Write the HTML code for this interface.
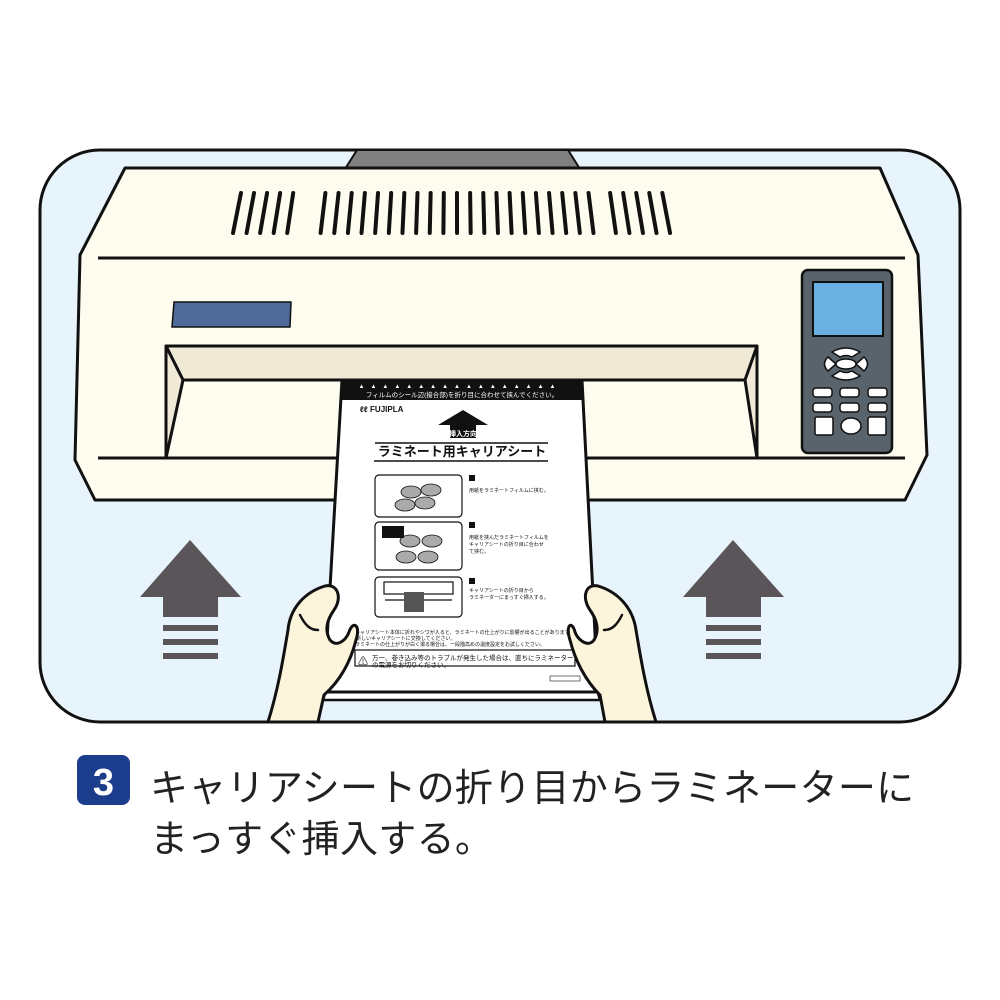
<!DOCTYPE html>
<html><head><meta charset="utf-8"><style>
body{margin:0;background:#fff;width:1000px;height:1000px;overflow:hidden;font-family:"Liberation Sans","Noto Sans CJK JP",sans-serif}
.t{position:absolute;left:150px;font-size:38px;color:#222;letter-spacing:0.3px;white-space:nowrap}
</style></head><body>
<svg width="1000" height="1000" style="position:absolute;left:0;top:0" font-family="Liberation Sans, Noto Sans CJK JP, sans-serif">
<rect x="40" y="150" width="920" height="572" rx="60" fill="#e8f4fc" stroke="#111" stroke-width="3"/>
<polygon points="357,150 568,150 580,169 345,169" fill="#808080" stroke="#111" stroke-width="2"/>
<polygon points="125,168 880,168 918,255 927,455 905,500 95,500 75,460 80,255" fill="#fdfcef" stroke="#111" stroke-width="3" stroke-linejoin="round"/>
<line x1="98" y1="258" x2="905" y2="258" stroke="#111" stroke-width="3"/>
<g id="vents" stroke="#111" stroke-width="4" stroke-linecap="round"></g>
<polygon points="174,302 291,302 290,327 172,327" fill="#4e6a98" stroke="#111" stroke-width="1.5"/>
<polygon points="166,346 757,346 757,380 183,380" fill="#efe9d5" stroke="#111" stroke-width="3" stroke-linejoin="round"/>
<polygon points="166,346 183,380 166,458" fill="#efe9d5" stroke="#111" stroke-width="3" stroke-linejoin="round"/>
<polygon points="757,346 745,380 757,458" fill="#efe9d5" stroke="#111" stroke-width="3" stroke-linejoin="round"/>
<line x1="98" y1="458" x2="905" y2="458" stroke="#111" stroke-width="3"/>
<rect x="802" y="270" width="90" height="183" rx="6" fill="#58636b" stroke="#111" stroke-width="2.5"/>
<rect x="813" y="282" width="70" height="54" fill="#6ab0e0" stroke="#111" stroke-width="2"/>
<g fill="#fff" stroke="#111" stroke-width="1.5">
<path d="M832,352 Q846,344 860,352 L852,357 Q846,354 840,357 Z"/>
<path d="M832,376 Q846,384 860,376 L852,371 Q846,374 840,371 Z"/>
<path d="M828,357 L836,364 L828,371 Q821,364 828,357 Z"/>
<path d="M864,357 L856,364 L864,371 Q871,364 864,357 Z"/>
<ellipse cx="846" cy="364" rx="10" ry="5"/>
<rect x="813" y="388" width="19" height="9" rx="3"/><rect x="840" y="388" width="19" height="9" rx="3"/><rect x="868" y="388" width="19" height="9" rx="3"/>
<rect x="813" y="403" width="19" height="9" rx="3"/><rect x="840" y="403" width="19" height="9" rx="3"/><rect x="868" y="403" width="19" height="9" rx="3"/>
<rect x="815" y="417" width="18" height="18" rx="2"/><ellipse cx="851" cy="426" rx="10" ry="8"/><rect x="868" y="417" width="18" height="18" rx="2"/>
</g>
<g fill="#5a5558">
<polygon points="190,540 241,597 218,597 218,617 163,617 163,597 140,597"/>
<rect x="163" y="625" width="55" height="6"/><rect x="163" y="639" width="55" height="6"/><rect x="163" y="653" width="55" height="6"/>
<polygon points="733,540 784,597 761,597 761,617 706,617 706,597 683,597"/>
<rect x="706" y="625" width="55" height="6"/><rect x="706" y="639" width="55" height="6"/><rect x="706" y="653" width="55" height="6"/>
</g>
<polygon points="326,690 597,690 600,700 323,700" fill="#fff" stroke="#111" stroke-width="2.5"/>
<polygon points="342,380 582,380 598,692 324,692" fill="#fff" stroke="#111" stroke-width="3"/>
<polygon points="342,380 582,380 583,400 341,400" fill="#111"/>
<text x="462" y="397" font-size="6.5" fill="#fff" text-anchor="middle">フィルムのシール辺(接合部)を折り目に合わせて挟んでください。</text>
<text x="460" y="388" font-size="6" fill="#fff" text-anchor="middle" letter-spacing="6">▲▲▲▲▲▲▲▲▲▲▲▲▲▲▲▲▲</text>
<text x="360" y="412" font-size="8" font-weight="bold" fill="#111">ℓℓ FUJIPLA</text>
<polygon points="463,410 488,425 476,425 476,438 450,438 450,425 438,425" fill="#111"/>
<text x="463" y="436" font-size="7" fill="#fff" text-anchor="middle" font-weight="bold">挿入方向</text>
<line x1="375" y1="443" x2="548" y2="443" stroke="#111" stroke-width="1.5"/>
<text x="462" y="456" font-size="13" font-weight="bold" fill="#111" text-anchor="middle">ラミネート用キャリアシート</text>
<line x1="374" y1="461" x2="548" y2="461" stroke="#111" stroke-width="1.5"/>
<g fill="none" stroke="#111" stroke-width="1.2">
<rect x="375" y="475" width="87" height="42" rx="4"/>
<rect x="375" y="522" width="87" height="48" rx="4"/>
<rect x="375" y="577" width="87" height="40" rx="4"/>
<rect x="355" y="650" width="220" height="16"/>
<rect x="384" y="582" width="69" height="12"/>
<line x1="385" y1="600" x2="452" y2="600"/>
</g>
<g fill="#aaa" stroke="#111" stroke-width="0.8">
<ellipse cx="411" cy="492" rx="10" ry="6"/><ellipse cx="431" cy="490" rx="10" ry="6"/><ellipse cx="405" cy="505" rx="10" ry="6"/><ellipse cx="425" cy="503" rx="10" ry="6"/>
<ellipse cx="410" cy="541" rx="10" ry="6"/><ellipse cx="432" cy="541" rx="10" ry="6"/><ellipse cx="406" cy="557" rx="10" ry="6"/><ellipse cx="428" cy="557" rx="10" ry="6"/>
</g>
<rect x="382" y="526" width="22" height="12" fill="#111"/>
<rect x="404" y="592" width="20" height="20" fill="#555"/>
<g font-size="5" fill="#111">
<rect x="469" y="475" width="6" height="6"/><text x="469" y="492">用紙をラミネートフィルムに挟む。</text>
<rect x="469" y="522" width="6" height="6"/><text x="469" y="539">用紙を挟んだラミネートフィルムを</text><text x="469" y="546">キャリアシートの折り目に合わせ</text><text x="469" y="553">て挟む。</text>
<rect x="469" y="578" width="6" height="6"/><text x="469" y="592">キャリアシートの折り目から</text><text x="469" y="599">ラミネーターにまっすぐ挿入する。</text>
<text x="352" y="634">■キャリアシート本体に折れやシワが入ると、ラミネートの仕上がりに影響が出ることがあります。</text>
<text x="356" y="640">新しいキャリアシートに交換してください。</text>
<text x="352" y="646">■ラミネートの仕上がりが白く濁る場合は、一段階高めの温度設定をお試しください。</text>
<text x="372" y="660" font-size="6.5">万一、巻き込み等のトラブルが発生した場合は、直ちにラミネーター</text>
<text x="372" y="667" font-size="6.5">の電源をお切りください。</text>
<rect x="550" y="676" width="30" height="5" fill="none" stroke="#111" stroke-width="0.6"/>
</g>
<text x="363" y="665" font-size="10" fill="#111" text-anchor="middle">⚠</text>
<g fill="#fdf4dc" stroke="#111" stroke-width="3" stroke-linejoin="round" stroke-linecap="round">
<path d="M268,722 C278,690 283,660 288,630 C290,608 305,592 325,586 C337,583 343,597 334,610 C327,620 324,630 330,640 C337,648 346,640 349,632 C353,620 361,625 356,640 C351,660 341,680 324,695 L318,722 Z"/>
<path d="M656,722 C646,690 641,660 636,630 C633,608 618,592 598,586 C586,583 581,597 590,610 C597,620 600,630 594,640 C588,648 578,640 575,632 C572,620 565,625 570,640 C575,660 585,680 600,695 L605,722 Z"/>
</g>
<g fill="none" stroke="#111" stroke-width="2.5" stroke-linecap="round">
<path d="M300,615 C305,625 310,630 318,630"/><path d="M622,615 C617,625 612,630 604,630"/>
</g>
<rect x="77" y="755" width="53" height="50" rx="8" fill="#1c3c8c"/>
<text x="103.5" y="795" font-size="38" font-weight="bold" fill="#fff" text-anchor="middle">3</text>
</svg>
<div class="t" style="top:757px">キャリアシートの折り目からラミネーターに</div>
<div class="t" style="top:808px">まっすぐ挿入する。</div>
<script>
(function(){
var g=document.getElementById('vents'),xs=[],i;
for(i=0;i<5;i++)xs.push(237+i*13.3);
for(i=0;i<21;i++)xs.push(323+i*13.4);
for(i=0;i<5;i++)xs.push(613+i*13.3);
var ns='http://www.w3.org/2000/svg';
xs.forEach(function(x){var s=8*(455-x)/220;var l=document.createElementNS(ns,'line');
l.setAttribute('x1',x+s/2);l.setAttribute('y1',193);l.setAttribute('x2',x-s/2);l.setAttribute('y2',233);g.appendChild(l);});
})();
</script>
</body></html>
